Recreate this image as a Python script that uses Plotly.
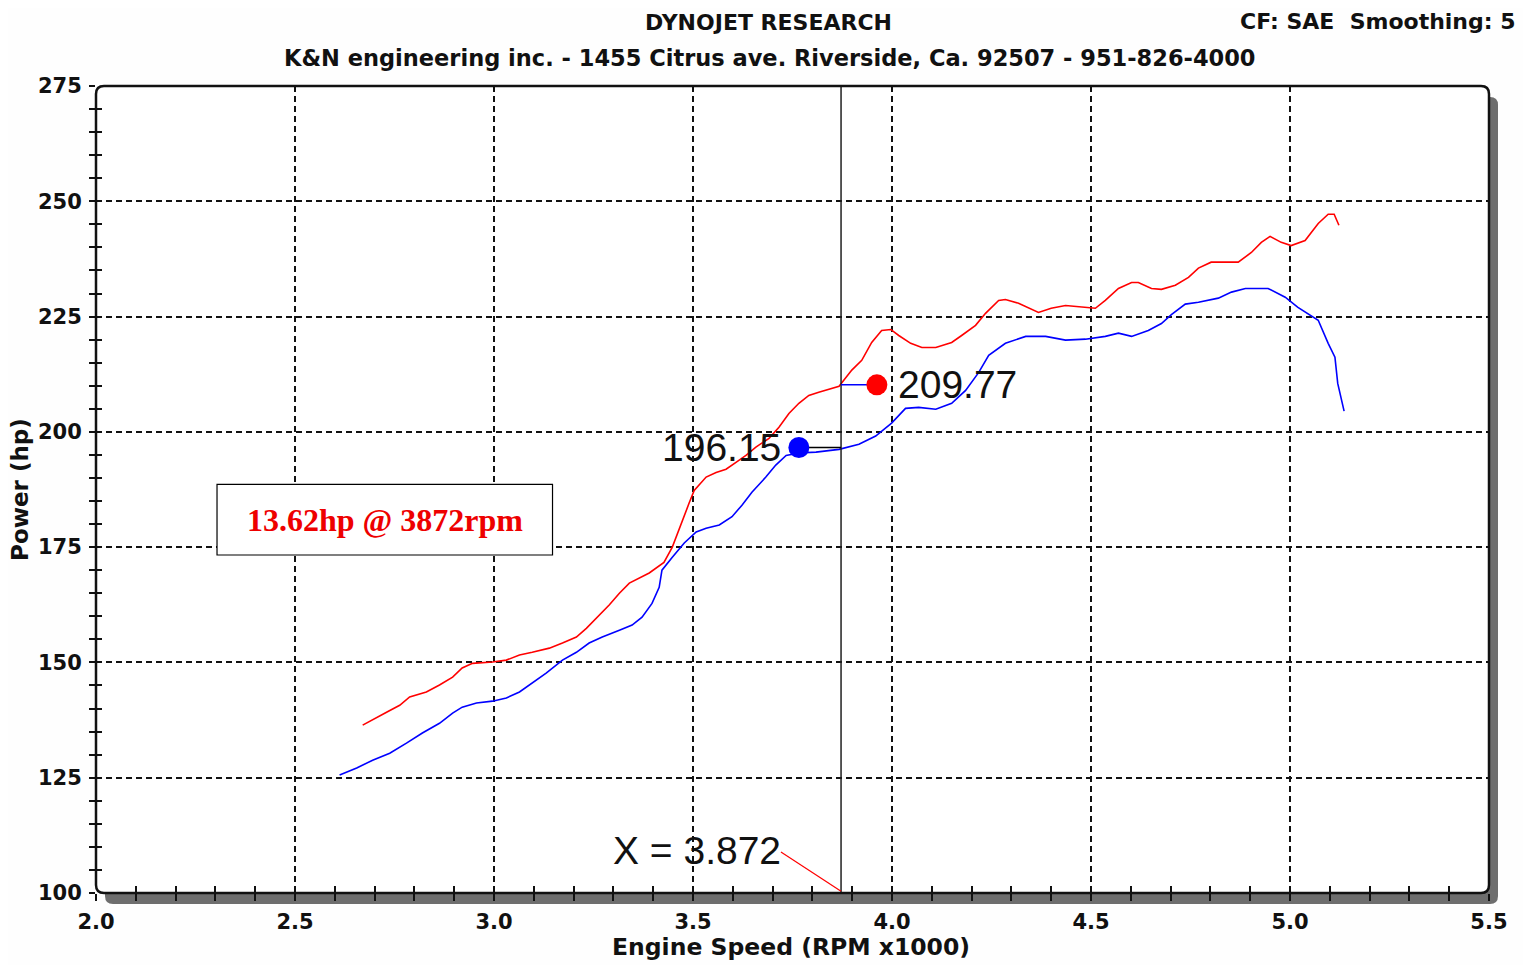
import plotly.graph_objects as go

# ---------------- data ----------------
red_rpm = [2.670, 2.695, 2.730, 2.763, 2.788, 2.830, 2.863, 2.896, 2.920, 2.946, 2.996, 3.031, 3.064, 3.096,
           3.139, 3.172, 3.207, 3.232, 3.257, 3.290, 3.315, 3.340, 3.390, 3.427, 3.448, 3.470, 3.490, 3.503,
           3.533, 3.558, 3.583, 3.608, 3.633, 3.658, 3.691, 3.716, 3.741, 3.766, 3.791, 3.816, 3.849, 3.867,
           3.899, 3.924, 3.949, 3.974, 3.997, 4.017, 4.047, 4.075, 4.110, 4.150, 4.175, 4.210, 4.235, 4.268,
           4.285, 4.318, 4.368, 4.400, 4.436, 4.469, 4.511, 4.536, 4.569, 4.602, 4.619, 4.652, 4.677, 4.712,
           4.745, 4.770, 4.802, 4.870, 4.903, 4.928, 4.950, 4.978, 5.003, 5.038, 5.071, 5.096, 5.111, 5.123]
red_hp = [136.4, 137.5, 139.2, 140.7, 142.5, 143.6, 145.1, 146.8, 148.8, 149.8, 150.1, 150.5, 151.6, 152.2,
          153.1, 154.2, 155.5, 157.4, 159.6, 162.5, 165.0, 167.2, 169.4, 171.7, 175.0, 180.2, 184.5, 187.3,
          190.2, 191.2, 191.9, 193.4, 194.9, 196.7, 198.6, 201.0, 204.0, 206.2, 207.9, 208.6, 209.5, 209.9,
          213.4, 215.5, 219.4, 222.0, 222.2, 220.9, 219.2, 218.3, 218.3, 219.4, 220.9, 223.1, 225.7, 228.5,
          228.7, 227.9, 225.9, 226.8, 227.4, 227.2, 226.8, 228.5, 231.1, 232.4, 232.4, 231.1, 230.9, 231.8,
          233.5, 235.5, 236.8, 236.8, 238.9, 241.1, 242.4, 241.1, 240.4, 241.5, 245.2, 247.2, 247.2, 244.8]

blue_rpm = [2.612, 2.655, 2.695, 2.738, 2.780, 2.820, 2.863, 2.896, 2.920, 2.956, 2.996, 3.031, 3.064, 3.096,
            3.131, 3.172, 3.207, 3.239, 3.272, 3.315, 3.347, 3.372, 3.397, 3.415, 3.422, 3.448, 3.478, 3.508,
            3.533, 3.566, 3.598, 3.623, 3.648, 3.683, 3.708, 3.734, 3.766, 3.809, 3.867, 3.917, 3.959, 3.999,
            4.034, 4.067, 4.110, 4.150, 4.185, 4.218, 4.243, 4.285, 4.336, 4.386, 4.436, 4.486, 4.536, 4.569,
            4.602, 4.644, 4.677, 4.702, 4.737, 4.770, 4.820, 4.853, 4.888, 4.945, 4.988, 5.020, 5.046, 5.071,
            5.096, 5.113, 5.120, 5.136]
blue_hp = [125.6, 127.1, 128.8, 130.3, 132.5, 134.7, 136.8, 139.0, 140.3, 141.2, 141.6, 142.3, 143.6, 145.5,
           147.7, 150.5, 152.2, 154.2, 155.5, 157.0, 158.1, 159.8, 162.8, 166.3, 170.0, 172.8, 175.9, 178.3,
           179.1, 179.8, 181.6, 184.1, 186.9, 190.2, 192.8, 194.9, 195.4, 195.6, 196.2, 197.3, 199.1, 201.9,
           205.1, 205.3, 204.9, 206.2, 209.0, 212.9, 216.6, 219.2, 220.7, 220.7, 219.9, 220.1, 220.7, 221.4,
           220.7, 222.0, 223.5, 225.4, 227.7, 228.1, 229.0, 230.3, 231.1, 231.1, 229.2, 227.0, 225.5, 224.2,
           219.2, 216.2, 210.5, 204.5]

cursor_rpm = 3.872
red_cursor_hp = 209.77
blue_cursor_hp = 196.15
# label marker positions (rpm, hp)
red_label_pos = [3.962, 210.2]
blue_label_pos = [3.766, 196.6]
xlabel_text_pos = [3.716, 109.3]

x_ticks = [2.0, 2.5, 3.0, 3.5, 4.0, 4.5, 5.0, 5.5]
x_tick_labels = ["2.0", "2.5", "3.0", "3.5", "4.0", "4.5", "5.0", "5.5"]
y_ticks = [100, 125, 150, 175, 200, 225, 250, 275]

# ---------------- geometry helpers ----------------
W_PX, H_PX = 1393.0, 807.0  # plot area size in pixels


def rrect(x0, y0, x1, y1, rpx=8):
    rx, ry = rpx / W_PX, rpx / H_PX
    return (f"M {x0+rx},{y1} L {x1-rx},{y1} Q {x1},{y1} {x1},{y1-ry} "
            f"L {x1},{y0+ry} Q {x1},{y0} {x1-rx},{y0} "
            f"L {x0+rx},{y0} Q {x0},{y0} {x0},{y0+ry} "
            f"L {x0},{y1-ry} Q {x0},{y1} {x0+rx},{y1} Z")


fig = go.Figure()

# curves
fig.add_trace(go.Scatter(x=red_rpm, y=red_hp, mode="lines",
                         line=dict(color="#ff0000", width=1.6), hoverinfo="skip"))
fig.add_trace(go.Scatter(x=blue_rpm, y=blue_hp, mode="lines",
                         line=dict(color="#0000ff", width=1.6), hoverinfo="skip"))

# cursor vertical line
fig.add_trace(go.Scatter(x=[cursor_rpm, cursor_rpm], y=[100, 275], mode="lines",
                         line=dict(color="#202020", width=1.5), hoverinfo="skip"))

# connectors
fig.add_trace(go.Scatter(x=[cursor_rpm, red_label_pos[0]], y=[red_label_pos[1], red_label_pos[1]],
                         mode="lines", line=dict(color="#0000ff", width=1.6), hoverinfo="skip"))
fig.add_trace(go.Scatter(x=[blue_label_pos[0], cursor_rpm], y=[blue_label_pos[1], blue_label_pos[1]],
                         mode="lines", line=dict(color="#000000", width=1.6), hoverinfo="skip"))

# markers
fig.add_trace(go.Scatter(x=[red_label_pos[0]], y=[red_label_pos[1]], mode="markers",
                         marker=dict(color="#ff0000", size=21, line=dict(width=0)), hoverinfo="skip"))
fig.add_trace(go.Scatter(x=[blue_label_pos[0]], y=[blue_label_pos[1]], mode="markers",
                         marker=dict(color="#0000ff", size=21, line=dict(width=0)), hoverinfo="skip"))

# red pointer line from "X = ..." text to cursor foot
fig.add_trace(go.Scatter(x=[xlabel_text_pos[0] + 0.005, cursor_rpm], y=[xlabel_text_pos[1] - 0.4, 100.4],
                         mode="lines", line=dict(color="#ff0000", width=1.2), hoverinfo="skip"))

# empty trace on overlay axes (for crossing ticks)
fig.add_trace(go.Scatter(x=[], y=[], xaxis="x2", yaxis="y2", hoverinfo="skip"))

tick_font = dict(family="DejaVu Sans", size=21, color="#111111", weight="bold")

shapes = [
    # shadow
    dict(type="path", xref="paper", yref="paper", layer="below",
         path=rrect(9 / W_PX, -11 / H_PX, 1 + 9 / W_PX, 1 - 11 / H_PX),
         fillcolor="#6e6e6e", line=dict(width=0)),
    # white plot face
    dict(type="path", xref="paper", yref="paper", layer="below",
         path=rrect(0, 0, 1, 1), fillcolor="#ffffff", line=dict(width=0)),
    # frame
    dict(type="path", xref="paper", yref="paper", layer="above",
         path=rrect(0, 0, 1, 1), fillcolor="rgba(0,0,0,0)", line=dict(color="#111111", width=2.5)),
    # annotation box
    dict(type="rect", xref="x", yref="y", x0=2.304, x1=3.147, y0=173.3, y1=188.6,
         fillcolor="#ffffff", line=dict(color="#000000", width=1.2), layer="above"),
]

big_font = dict(family="Liberation Sans", size=39, color="#111111")

annotations = [
    dict(text="DYNOJET RESEARCH", xref="paper", yref="paper", x=0.4828, y=1.0793,
         showarrow=False, xanchor="center", yanchor="middle",
         font=dict(family="DejaVu Sans", size=22, color="#111111", weight="bold")),
    dict(text="K&N engineering inc. - 1455 Citrus ave. Riverside, Ca. 92507 - 951-826-4000",
         xref="paper", yref="paper", x=0.4835, y=1.0347, showarrow=False,
         xanchor="center", yanchor="middle",
         font=dict(family="DejaVu Sans", size=22.5, color="#111111", weight="bold")),
    dict(text="CF: SAE  Smoothing: 5", xref="paper", yref="paper", x=1.0205, y=1.0805,
         showarrow=False, xanchor="right", yanchor="middle",
         font=dict(family="DejaVu Sans", size=22, color="#111111", weight="bold")),
    dict(text="Engine Speed (RPM x1000)", xref="paper", yref="paper", x=0.4986, y=-0.0669,
         showarrow=False, xanchor="center", yanchor="middle",
         font=dict(family="DejaVu Sans", size=23.5, color="#111111", weight="bold")),
    dict(text="Power (hp)", xref="paper", yref="paper", x=-0.0546, y=0.5006, textangle=-90,
         showarrow=False, xanchor="center", yanchor="middle",
         font=dict(family="DejaVu Sans", size=23, color="#111111", weight="bold")),
    dict(text=f"{red_cursor_hp:.2f}", x=red_label_pos[0], y=red_label_pos[1], xref="x", yref="y",
         showarrow=False, xanchor="left", yanchor="middle", xshift=19, font=big_font),
    dict(text=f"{blue_cursor_hp:.2f}", x=blue_label_pos[0], y=blue_label_pos[1], xref="x", yref="y",
         showarrow=False, xanchor="right", yanchor="middle", xshift=-16, font=big_font),
    dict(text=f"X = {cursor_rpm:.3f}", x=xlabel_text_pos[0], y=xlabel_text_pos[1], xref="x", yref="y",
         showarrow=False, xanchor="right", yanchor="middle", xshift=4, font=big_font),
    dict(text=f"{red_cursor_hp - blue_cursor_hp:.2f}hp @ {cursor_rpm * 1000:.0f}rpm",
         x=(2.304 + 3.147) / 2, y=(173.3 + 188.6) / 2, xref="x", yref="y",
         showarrow=False, xanchor="center", yanchor="middle",
         font=dict(family="Liberation Serif", size=32, color="#ee0000", weight="bold")),
]

# the page body adds an 8px margin, so the figure is 8px smaller and margins shifted
fig.update_layout(
    width=1523, height=957, autosize=False,
    margin=dict(l=88, r=42, t=78, b=72, pad=0),
    paper_bgcolor="#fefefe", plot_bgcolor="#ffffff",
    showlegend=False,
    shapes=shapes, annotations=annotations,
    xaxis=dict(range=[1.9999, 5.5001], tickvals=x_ticks, ticktext=x_tick_labels,
               showgrid=True, gridcolor="#111111", gridwidth=1.6, griddash="6px,4px",
               zeroline=False, showline=False,
               ticks="outside", ticklen=7, tickwidth=1.5, tickcolor="#111111",
               minor=dict(dtick=0.1, tick0=2.0, ticks="outside", ticklen=7, tickwidth=1.5,
                          tickcolor="#111111", showgrid=False),
               tickfont=tick_font, ticklabelstandoff=3),
    yaxis=dict(range=[100, 275], tickvals=y_ticks,
               showgrid=True, gridcolor="#111111", gridwidth=2, griddash="6px,4px",
               zeroline=False, showline=False,
               ticks="outside", ticklen=6, tickwidth=1.5, tickcolor="#111111",
               minor=dict(dtick=5, tick0=100, ticks="outside", ticklen=6, tickwidth=1.5,
                          tickcolor="#111111", showgrid=False),
               tickfont=tick_font, ticklabelstandoff=3),
    xaxis2=dict(range=[1.9999, 5.5001], overlaying="x", side="bottom", showgrid=False,
                zeroline=False, showline=False, showticklabels=False,
                tickvals=x_ticks, ticks="inside", ticklen=7, tickwidth=1.5, tickcolor="#111111",
                minor=dict(dtick=0.1, tick0=2.0, ticks="inside", ticklen=7, tickwidth=1.5,
                           tickcolor="#111111", showgrid=False)),
    yaxis2=dict(range=[100, 275], overlaying="y", side="left", showgrid=False,
                zeroline=False, showline=False, showticklabels=False,
                tickvals=y_ticks, ticks="inside", ticklen=6, tickwidth=1.5, tickcolor="#111111",
                minor=dict(dtick=5, tick0=100, ticks="inside", ticklen=6, tickwidth=1.5,
                           tickcolor="#111111", showgrid=False)),
)

fig.write_html("out.html")
